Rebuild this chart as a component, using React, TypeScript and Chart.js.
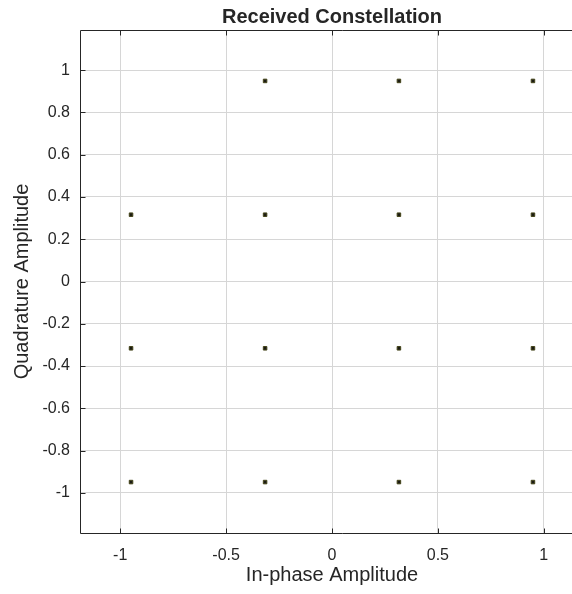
import React, { useEffect, useRef } from "react";
import { Chart, registerables } from "chart.js";

Chart.register(...registerables);

const titleText = "Received Constellation";
const xLabel = "In-phase Amplitude";
const yLabel = "Quadrature Amplitude";

const inPhase = [-0.316, 0.316, 0.949, -0.949, -0.316, 0.316, 0.949, -0.949, -0.316, 0.316, 0.949, -0.949, -0.316, 0.316, 0.949];
const quadrature = [0.949, 0.949, 0.949, 0.316, 0.316, 0.316, 0.316, -0.316, -0.316, -0.316, -0.316, -0.949, -0.949, -0.949, -0.949];

const xTicks = [-1, -0.5, 0, 0.5, 1];
const yTicks = [-1, -0.8, -0.6, -0.4, -0.2, 0, 0.2, 0.4, 0.6, 0.8, 1];
const xRange = [-1.19, 1.19];
const yRange = [-1.19, 1.19];

const FONT = "'Liberation Sans', Arial, sans-serif";
const TEXT = "#262626";

const framePlugin = {
  id: "matlabFrame",
  afterDatasetsDraw(chart: any) {
    const { ctx, chartArea } = chart;
    const { left, right, top, bottom } = chartArea;
    const xs = chart.scales.x;
    const ys = chart.scales.y;
    const L = Math.round(left) + 0.5;
    const T = Math.round(top) + 0.5;
    const B = Math.round(bottom) + 0.5;
    ctx.save();
    ctx.strokeStyle = TEXT;
    ctx.lineWidth = 1;
    ctx.beginPath();
    ctx.moveTo(right + 20, T);
    ctx.lineTo(L, T);
    ctx.lineTo(L, B);
    ctx.lineTo(right + 20, B);
    ctx.stroke();
    const tl = 5;
    ctx.beginPath();
    xTicks.forEach((v) => {
      const px = Math.round(xs.getPixelForValue(v)) + 0.5;
      ctx.moveTo(px, T);
      ctx.lineTo(px, T + tl);
      ctx.moveTo(px, B);
      ctx.lineTo(px, B - tl);
    });
    yTicks.forEach((v) => {
      const py = Math.round(ys.getPixelForValue(v)) + 0.5;
      ctx.moveTo(L, py);
      ctx.lineTo(L + tl, py);
    });
    ctx.stroke();
    ctx.restore();
  },
  afterDraw(chart: any) {
    const { ctx, chartArea } = chart;
    ctx.save();
    ctx.fillStyle = TEXT;
    ctx.font = `bold 20px ${FONT}`;
    ctx.textAlign = "center";
    ctx.textBaseline = "alphabetic";
    ctx.fillText(titleText, (chartArea.left + chartArea.right) / 2, 23);
    ctx.restore();
  },
};

export default function App() {
  const ref = useRef<HTMLCanvasElement | null>(null);

  useEffect(() => {
    if (!ref.current) return;
    const chart = new Chart(ref.current, {
      type: "scatter",
      data: {
        datasets: [
          {
            label: "Received",
            data: inPhase.map((x, i) => ({ x, y: quadrature[i] })),
            pointStyle: "rect",
            pointRadius: 2.5,
            backgroundColor: "#1c1c14",
            borderColor: "#45451a",
            borderWidth: 1,
          },
        ],
      },
      options: {
        responsive: false,
        animation: false,
        events: [],
        layout: { padding: { top: 30, right: 56, left: 0, bottom: 0 } },
        plugins: {
          legend: { display: false },
          title: { display: false },
          tooltip: { enabled: false },
        },
        scales: {
          x: {
            type: "linear",
            min: xRange[0],
            max: xRange[1],
            afterBuildTicks: (s: any) => {
              s.ticks = xTicks.map((v) => ({ value: v }));
            },
            afterFit: (s: any) => {
              s.height = 61;
            },
            grid: { color: "#d6d6d6", lineWidth: 1, drawTicks: false },
            border: { display: false },
            ticks: {
              padding: 13,
              color: TEXT,
              font: { family: FONT, size: 16 },
              maxRotation: 0,
              autoSkip: false,
              callback: (v: any) => String(v),
            },
            title: {
              display: true,
              text: xLabel,
              color: TEXT,
              font: { family: FONT, size: 20 },
              padding: { top: 0, bottom: 7 },
            },
          },
          y: {
            type: "linear",
            min: yRange[0],
            max: yRange[1],
            afterBuildTicks: (s: any) => {
              s.ticks = yTicks.map((v) => ({ value: v }));
            },
            afterFit: (s: any) => {
              s.width = 80;
            },
            grid: { color: "#d6d6d6", lineWidth: 1, drawTicks: false },
            border: { display: false },
            ticks: {
              padding: 10,
              color: TEXT,
              font: { family: FONT, size: 16 },
              autoSkip: false,
              callback: (v: any) => String(v),
            },
            title: {
              display: true,
              text: yLabel,
              color: TEXT,
              font: { family: FONT, size: 20 },
              padding: { top: 10, bottom: 0 },
            },
          },
        },
      },
      plugins: [framePlugin],
    });
    return () => chart.destroy();
  }, []);

  return (
    <div
      style={{
        position: "fixed",
        left: 0,
        top: 0,
        width: 572,
        height: 594,
        overflow: "hidden",
        background: "#ffffff",
      }}
    >
      <canvas ref={ref} width={640} height={594} style={{ display: "block" }} />
    </div>
  );
}
